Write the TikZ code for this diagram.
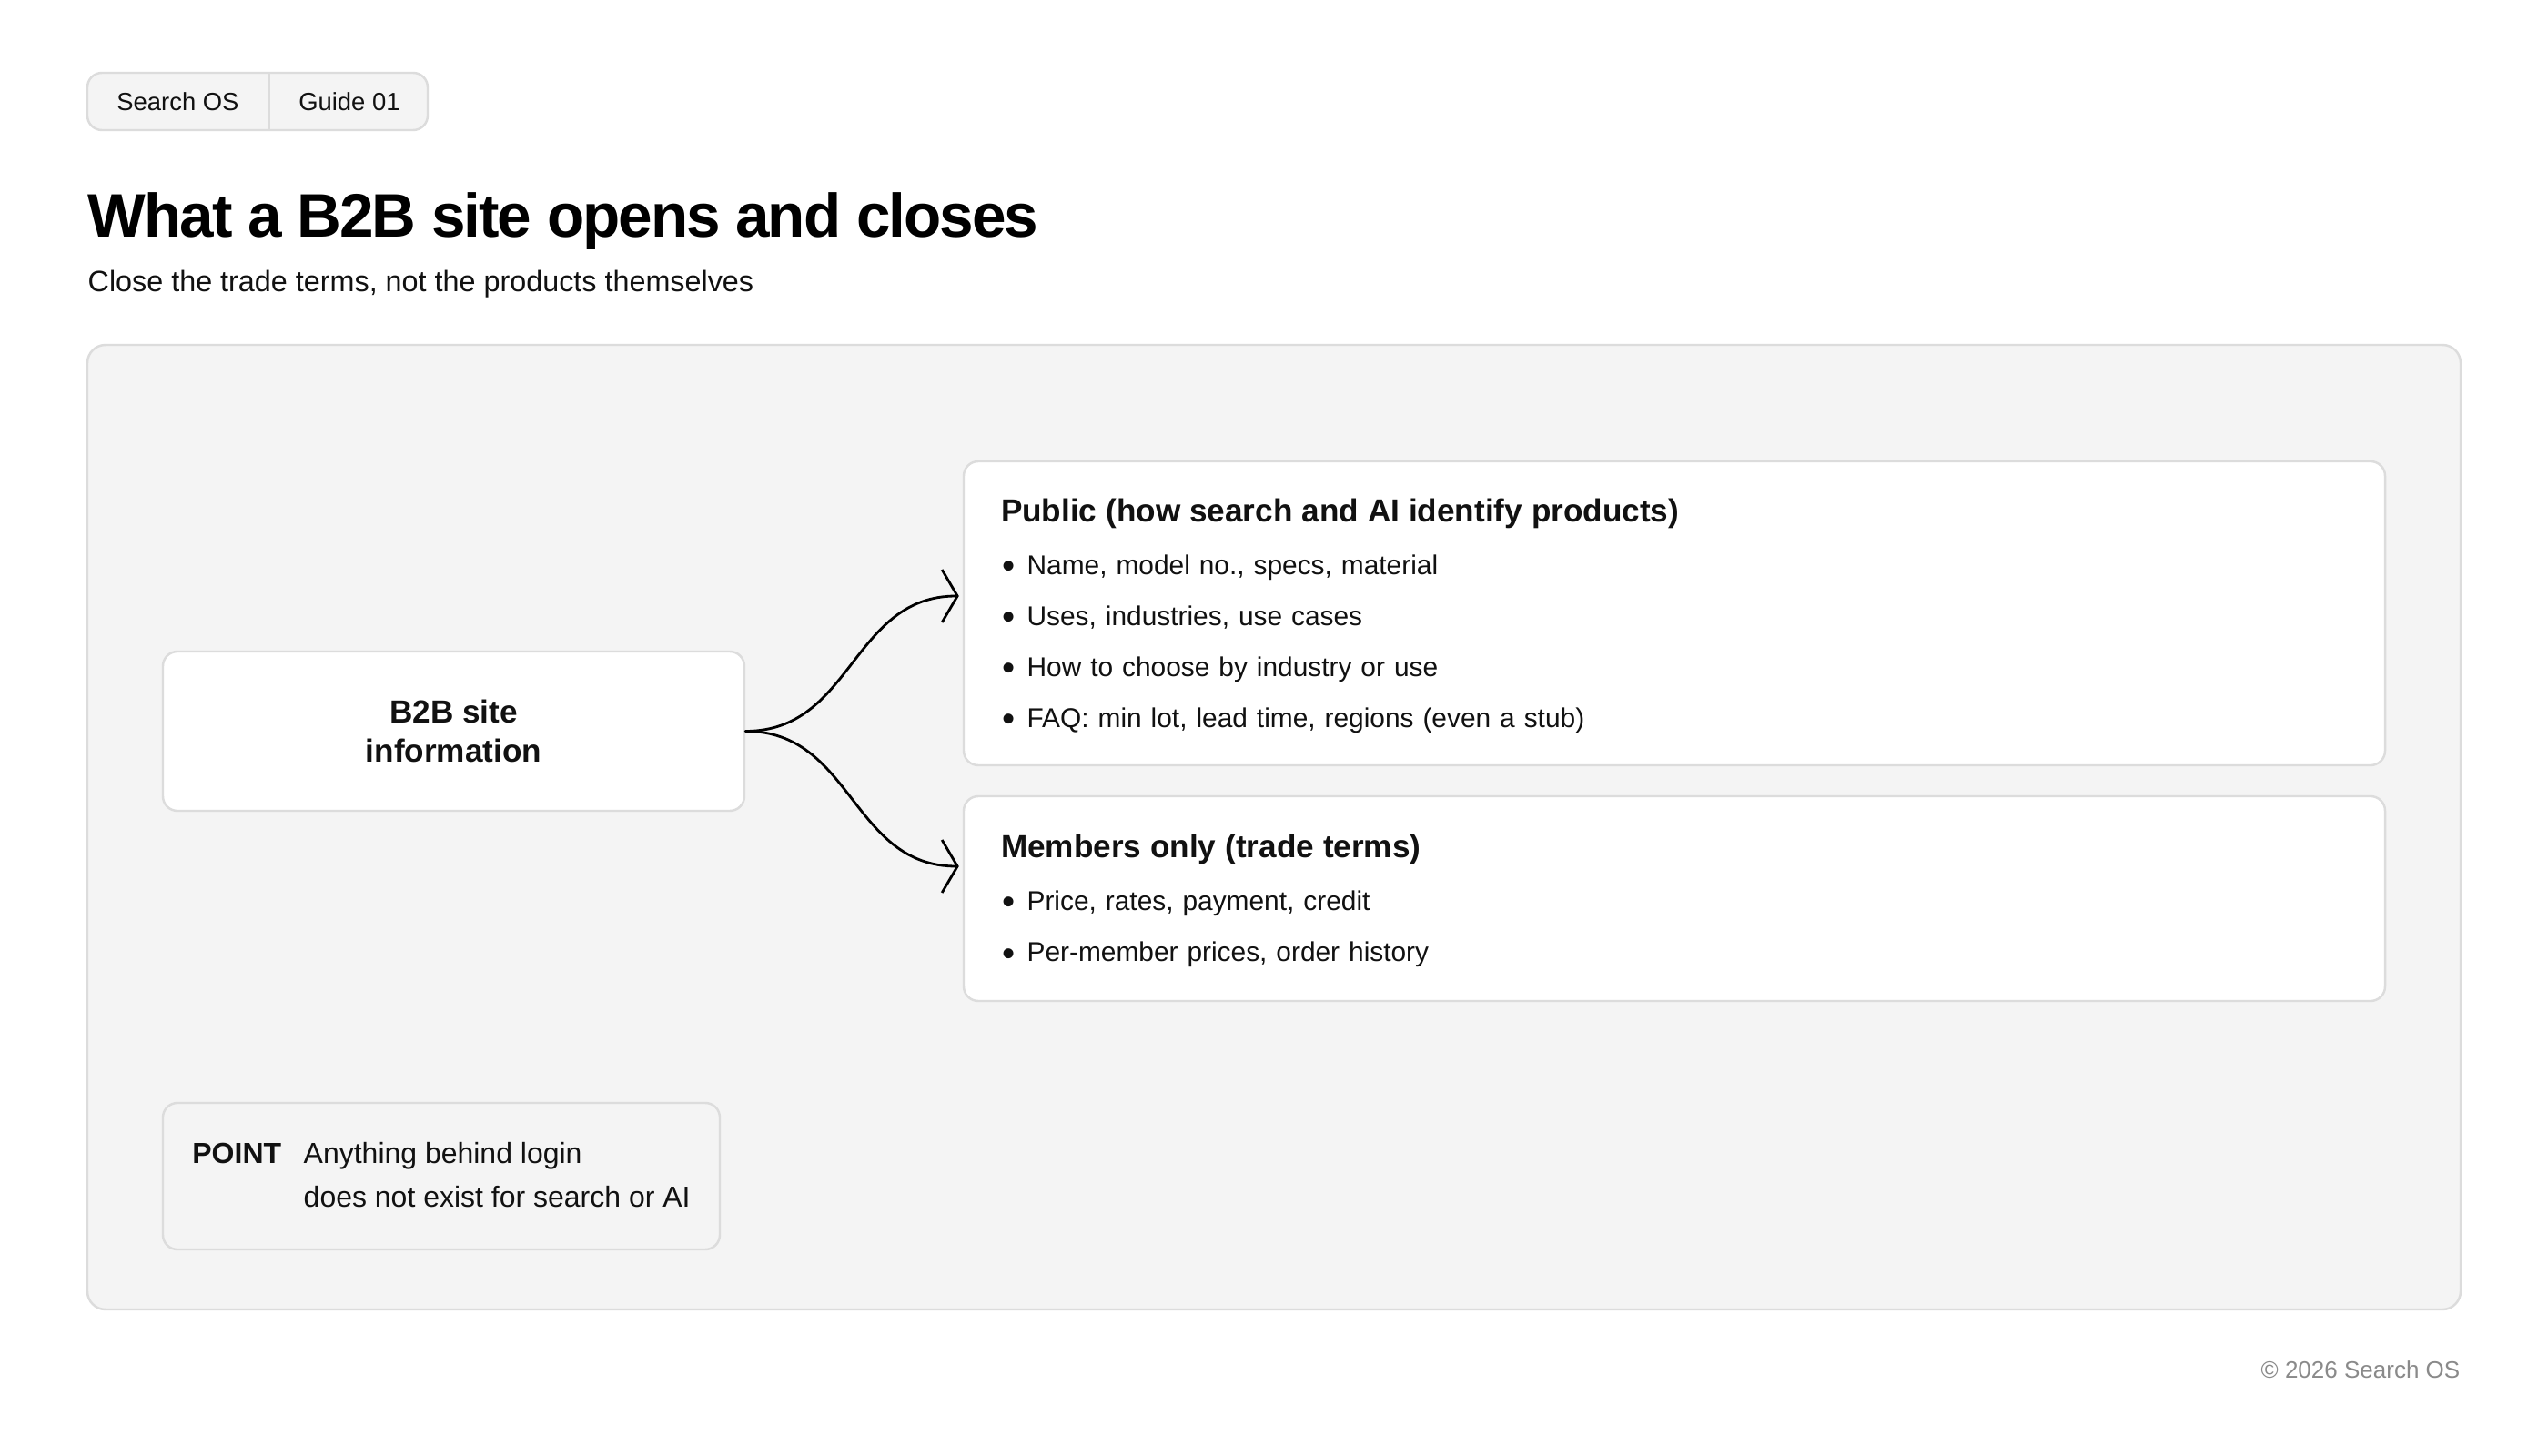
\documentclass[tikz,border=0pt]{standalone}
\usepackage{fontspec}
\setmainfont{Liberation Sans}
\newfontfamily\headfont[LetterSpace=-3]{Liberation Sans}
\usepackage{graphicx}
\usepackage{tikz}
\usetikzlibrary{positioning,arrows.meta}
\definecolor{panelgray}{HTML}{F4F4F4}
\definecolor{linegray}{HTML}{DCDCDC}
\definecolor{footgray}{HTML}{8A8A8A}
\definecolor{inkblack}{HTML}{111111}
\newcommand{\itemdot}{\makebox[0.286cm][l]{\kern0.01cm\raisebox{-1.2pt}{\scalebox{1.35}{\textbullet}}}}

\begin{document}
\begin{tikzpicture}[
    tag/.style={rectangle, minimum height=0.63cm, inner sep=0pt, text=inkblack, font=\fontsize{7.8pt}{9pt}\selectfont},
    tagframe/.style={draw=linegray, fill=panelgray, line width=0.7pt, rounded corners=0.16cm},
    panelframe/.style={draw=linegray, fill=panelgray, line width=0.7pt, rounded corners=0.2cm},
    card/.style={rectangle, draw=linegray, line width=0.7pt, rounded corners=0.16cm, fill=white, text width=14.80cm, inner xsep=0.41cm, align=left, text=inkblack, font=\fontsize{8.5pt}{16pt}\selectfont},
    srcbox/.style={rectangle, draw=linegray, line width=0.7pt, rounded corners=0.16cm, fill=white, minimum width=6.39cm, minimum height=1.75cm, align=center, text=inkblack, font=\fontsize{10pt}{12.2pt}\selectfont\bfseries},
    notebox/.style={rectangle, draw=linegray, line width=0.7pt, rounded corners=0.16cm, fill=panelgray, minimum width=6.12cm, minimum height=1.61cm, text=inkblack, font=\fontsize{9.1pt}{13.7pt}\selectfont},
    flow/.style={-{Straight Barb[length=0.17cm, width=0.58cm]}, line width=0.8pt, line cap=round},
]

\fill[white] (0,0) rectangle (28,-16);

% Header
\path[tagframe] (0.96,-0.80) rectangle (4.70,-1.43);
\node[tag, minimum width=1.99cm] (tagsearch) at (1.955,-1.115) {Search OS};
\node[tag, minimum width=1.75cm, right=0pt of tagsearch] (tagguide) {Guide 01};
\draw[linegray, line width=0.7pt] (tagsearch.north east) -- (tagsearch.south east);

\node[anchor=base west, inner sep=0pt, text=black, font=\headfont\fontsize{19.2pt}{23pt}\selectfont\bfseries] (title) at (0.96,-2.61) {What a B2B site opens and closes};
\node[anchor=base west, inner sep=0pt, text=inkblack, font=\fontsize{9.2pt}{11pt}\selectfont] (subtitle) at (0.96,-3.21) {Close the trade terms, not the products themselves};

% Panel
\path[panelframe] (0.96,-3.79) rectangle (27.04,-14.39);

\node[srcbox] (site) at (4.985,-8.035) {B2B site\\information};

\node[card, minimum height=3.34cm] (public) at (18.40,-6.74) {
    \rule{0pt}{8.8pt}{\fontsize{10pt}{16pt}\selectfont\bfseries Public (how search and AI identify products)}\\[0.5pt]
    \itemdot Name, model no., specs, material\\
    \itemdot Uses, industries, use cases\\
    \itemdot How to choose by industry or use\\
    \itemdot FAQ: min lot, lead time, regions (even a stub)
};

\node[card, minimum height=2.25cm] (members) at (18.40,-9.875) {
    \rule{0pt}{8.8pt}{\fontsize{10pt}{16pt}\selectfont\bfseries Members only (trade terms)}\\[0.5pt]
    \itemdot Price, rates, payment, credit\\
    \itemdot Per-member prices, order history
};

\draw[flow] (site.east) .. controls +(1.18,0) and +(-1.18,0) .. ([xshift=-0.04cm, yshift=0.19cm]public.west);
\draw[flow] (site.east) .. controls +(1.18,0) and +(-1.18,0) .. ([xshift=-0.04cm, yshift=0.355cm]members.west);

% Note
\node[notebox] (point) at (4.85,-12.925) {
    \begin{tabular}{@{}l@{\hspace{7pt}}l@{}}
    \textbf{POINT} & Anything behind login\\
                   & does not exist for search or AI
    \end{tabular}
};

% Footer
\node[anchor=base east, inner sep=0pt, text=footgray, font=\fontsize{7.4pt}{9pt}\selectfont] (footer) at (27.04,-15.14) {\textcopyright{} 2026 Search OS};

\end{tikzpicture}
\end{document}
